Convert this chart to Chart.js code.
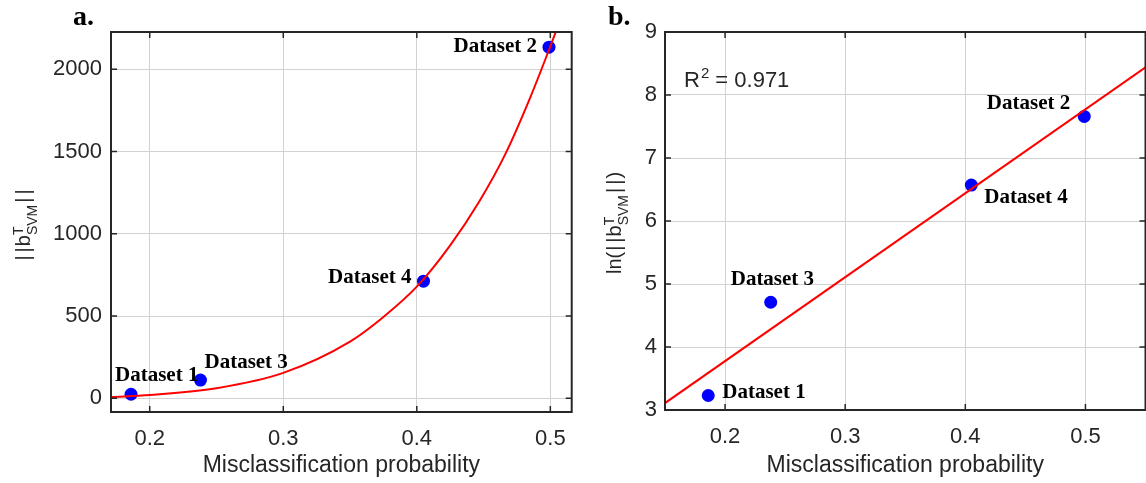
<!DOCTYPE html>
<html>
<head>
<meta charset="utf-8">
<script src="https://cdn.jsdelivr.net/npm/chart.js@4.4.1/dist/chart.umd.min.js"></script>
<style>
  html, body { margin: 0; padding: 0; background: #fff; overflow: hidden; }
  body { width: 1146px; height: 483px; position: relative; }
  canvas { position: absolute; top: 0; }
  #panel-a { left: 0; }
  #panel-b { left: 580px; }
</style>
</head>
<body>
<canvas id="panel-a" width="580" height="483"></canvas>
<canvas id="panel-b" width="572" height="483"></canvas>
<script>
// Values
const DATASET_NAMES = ['Dataset 1', 'Dataset 2', 'Dataset 3', 'Dataset 4'];
const MISCLASS_PROB = [0.186, 0.499, 0.238, 0.405];
const NORM_B = [25, 2135, 111, 712];
const LN_NORM_B = [3.23, 7.66, 4.71, 6.57];

// red fitted curve of panel a, sampled along the picture
const FIT_A_X = [0.171, 0.2, 0.25, 0.3, 0.35, 0.375, 0.4, 0.425, 0.447, 0.466, 0.485, 0.5, 0.506];
const FIT_A_Y = [8, 21, 62, 155, 345, 495, 679, 930, 1200, 1480, 1830, 2140, 2270];

// straight fit of panel b, at the two axis ends
const FIT_B_X = [0.15, 0.55];
const FIT_B_Y = [3.11, 8.44];
const R_SQUARED = 0.971;

const X_TICKS_A = [0.2, 0.3, 0.4, 0.5];
const Y_TICKS_A = [0, 500, 1000, 1500, 2000];
const X_TICKS_B = [0.2, 0.3, 0.4, 0.5];
const Y_TICKS_B = [3, 4, 5, 6, 7, 8, 9];

const X_TITLE = 'Misclassification probability';

// Styling
const SANS = '"Liberation Sans", Arial, sans-serif';
const SERIF = '"Liberation Serif", "Times New Roman", serif';
const AXIS_COLOR = '#262626';
const GRID_COLOR = '#d2d2d2';
const TICK_LEN = 6;

function toPoints(xs, ys) {
  return xs.map((x, i) => ({ x, y: ys[i] }));
}

// Box around the axes with inward tick marks (MATLAB look)
const framePlugin = {
  id: 'frame',
  afterDatasetsDraw(chart) {
    const { ctx, chartArea: a, scales: { x, y } } = chart;
    ctx.save();
    ctx.strokeStyle = AXIS_COLOR;
    ctx.lineWidth = 1.5;
    ctx.beginPath();
    x.ticks.forEach(t => {
      const px = x.getPixelForValue(t.value);
      ctx.moveTo(px, a.bottom); ctx.lineTo(px, a.bottom - TICK_LEN);
      ctx.moveTo(px, a.top); ctx.lineTo(px, a.top + TICK_LEN);
    });
    y.ticks.forEach(t => {
      const py = y.getPixelForValue(t.value);
      ctx.moveTo(a.left, py); ctx.lineTo(a.left + TICK_LEN, py);
      ctx.moveTo(a.right, py); ctx.lineTo(a.right - TICK_LEN, py);
    });
    ctx.stroke();
    ctx.lineWidth = 2;
    ctx.strokeRect(a.left, a.top, a.right - a.left, a.bottom - a.top);
    ctx.restore();
  }
};

// "Dataset N" names next to the points
const pointNamesPlugin = {
  id: 'pointNames',
  afterDatasetsDraw(chart, args, opts) {
    const { ctx, scales: { x, y } } = chart;
    ctx.save();
    ctx.font = `bold 21px ${SERIF}`;
    ctx.fillStyle = '#000';
    ctx.textBaseline = 'alphabetic';
    opts.names.forEach((name, i) => {
      const off = opts.offsets[i];
      ctx.textAlign = off.align;
      ctx.fillText(name, x.getPixelForValue(opts.xs[i]) + off.dx, y.getPixelForValue(opts.ys[i]) + off.dy);
    });
    ctx.restore();
  }
};

// Rotated y label with super/subscripts
function drawRotatedLabel(ctx, parts, baseX, centerY) {
  const main = `20px ${SANS}`;
  const small = `14px ${SANS}`;
  const partWidth = p => {
    if (p.sup !== undefined) {
      ctx.font = small;
      return Math.max(ctx.measureText(p.sup).width, ctx.measureText(p.sub).width) + 1;
    }
    ctx.font = main;
    let w = 0;
    for (const ch of p.t) w += ctx.measureText(ch).width;
    return w + (p.ls || 0) * (p.t.length - 1) + (p.ls ? 2 : 0);
  };
  const total = parts.reduce((s, p) => s + partWidth(p), 0);
  ctx.save();
  ctx.translate(baseX, centerY);
  ctx.rotate(-Math.PI / 2);
  ctx.fillStyle = AXIS_COLOR;
  ctx.textAlign = 'left';
  ctx.textBaseline = 'alphabetic';
  let cx = -total / 2;
  parts.forEach(p => {
    const w = partWidth(p);
    if (p.sup !== undefined) {
      ctx.font = small;
      ctx.fillText(p.sup, cx, -7);
      ctx.fillText(p.sub, cx, 7);
    } else {
      ctx.font = main;
      let px = cx + (p.ls ? 1 : 0);
      for (const ch of p.t) {
        ctx.fillText(ch, px, 0);
        px += ctx.measureText(ch).width + (p.ls || 0);
      }
    }
    cx += w;
  });
  ctx.restore();
}

// y label, panel letter and the R^2 note
const annotationPlugin = {
  id: 'annotations',
  afterDraw(chart, args, opts) {
    const { ctx } = chart;
    drawRotatedLabel(ctx, opts.yLabel, opts.yLabelX, opts.yLabelY);
    ctx.save();
    ctx.font = `bold 28px ${SERIF}`;
    ctx.fillStyle = '#000';
    ctx.textAlign = 'left';
    ctx.textBaseline = 'alphabetic';
    ctx.fillText(opts.letter, opts.letterX, 25);
    if (opts.rSquared !== undefined) {
      ctx.fillStyle = AXIS_COLOR;
      let px = opts.rX;
      ctx.font = `22px ${SANS}`;
      ctx.fillText('R', px, opts.rY);
      px += ctx.measureText('R').width + 1;
      ctx.font = `15px ${SANS}`;
      ctx.fillText('2', px, opts.rY - 9);
      px += ctx.measureText('2').width;
      ctx.font = `22px ${SANS}`;
      ctx.fillText(' = ' + opts.rSquared.toFixed(3), px, opts.rY);
    }
    ctx.restore();
  }
};

function makeScales(xMin, xMax, xTicks, yMin, yMax, yTicks, yWidth, xHeight, yPad) {
  return {
    x: {
      type: 'linear',
      min: xMin,
      max: xMax,
      afterBuildTicks: s => { s.ticks = xTicks.map(v => ({ value: v })); },
      afterFit: s => { s.height = xHeight; },
      grid: { color: GRID_COLOR, lineWidth: 1, drawTicks: false },
      border: { display: false },
      ticks: {
        color: AXIS_COLOR,
        font: { family: SANS, size: 22 },
        padding: 14,
        maxRotation: 0,
        callback: v => v.toFixed(1)
      },
      title: {
        display: true,
        text: X_TITLE,
        color: AXIS_COLOR,
        font: { family: SANS, size: 23 },
        padding: { top: 0, bottom: 4 }
      }
    },
    y: {
      type: 'linear',
      min: yMin,
      max: yMax,
      afterBuildTicks: s => { s.ticks = yTicks.map(v => ({ value: v })); },
      afterFit: s => { s.width = yWidth; },
      grid: { color: GRID_COLOR, lineWidth: 1, drawTicks: false },
      border: { display: false },
      ticks: {
        color: AXIS_COLOR,
        font: { family: SANS, size: 22 },
        padding: yPad,
        callback: v => String(v)
      }
    }
  };
}

function makeDatasets(xs, ys, fitX, fitY, monotone) {
  return [
    {
      type: 'line',
      data: toPoints(fitX, fitY),
      borderColor: '#ff0000',
      borderWidth: 2,
      pointRadius: 0,
      fill: false,
      tension: 0,
      cubicInterpolationMode: monotone ? 'monotone' : 'default',
      clip: 0,
      order: 0
    },
    {
      type: 'scatter',
      data: toPoints(xs, ys),
      backgroundColor: '#0000ff',
      borderWidth: 0,
      pointRadius: 6.5,
      order: 1
    }
  ];
}

function renderPanelA() {
  const ctx = document.getElementById('panel-a').getContext('2d');
  new Chart(ctx, {
    type: 'scatter',
    data: { datasets: makeDatasets(MISCLASS_PROB, NORM_B, FIT_A_X, FIT_A_Y, true) },
    options: {
      responsive: false,
      animation: false,
      devicePixelRatio: 1,
      events: [],
      layout: { padding: { top: 32, right: 8, left: 0, bottom: 0 } },
      scales: makeScales(0.171, 0.516, X_TICKS_A, -83, 2227, Y_TICKS_A, 111, 71, 9),
      plugins: {
        legend: { display: false },
        tooltip: { enabled: false },
        pointNames: {
          names: DATASET_NAMES, xs: MISCLASS_PROB, ys: NORM_B,
          offsets: [
            { align: 'left', dx: -16, dy: -13 },
            { align: 'right', dx: -12, dy: 5 },
            { align: 'left', dx: 4, dy: -12 },
            { align: 'right', dx: -12, dy: 2 }
          ]
        },
        annotations: {
          yLabel: [{ t: '||', ls: 3 }, { t: 'b' }, { sup: 'T', sub: 'SVM' }, { t: '||', ls: 3 }],
          yLabelX: 30, yLabelY: 225,
          letter: 'a.', letterX: 73
        }
      }
    },
    plugins: [framePlugin, pointNamesPlugin, annotationPlugin]
  });
}

function renderPanelB() {
  const ctx = document.getElementById('panel-b').getContext('2d');
  new Chart(ctx, {
    type: 'scatter',
    data: { datasets: makeDatasets(MISCLASS_PROB, LN_NORM_B, FIT_B_X, FIT_B_Y, false) },
    options: {
      responsive: false,
      animation: false,
      devicePixelRatio: 1,
      events: [],
      layout: { padding: { top: 32, right: 3, left: 0, bottom: 0 } },
      scales: makeScales(0.15, 0.55, X_TICKS_B, 3, 9, Y_TICKS_B, 85, 73, 8),
      plugins: {
        legend: { display: false },
        tooltip: { enabled: false },
        pointNames: {
          names: DATASET_NAMES, xs: MISCLASS_PROB, ys: LN_NORM_B,
          offsets: [
            { align: 'left', dx: 14, dy: 2 },
            { align: 'right', dx: -14, dy: -7 },
            { align: 'left', dx: -40, dy: -17 },
            { align: 'left', dx: 13, dy: 18 }
          ]
        },
        annotations: {
          yLabel: [{ t: 'ln(' }, { t: '||', ls: 3 }, { t: 'b' }, { sup: 'T', sub: 'SVM' }, { t: '||', ls: 3 }, { t: ')' }],
          yLabelX: 41, yLabelY: 223,
          letter: 'b.', letterX: 28,
          rSquared: R_SQUARED, rX: 104, rY: 87
        }
      }
    },
    plugins: [framePlugin, pointNamesPlugin, annotationPlugin]
  });
}

renderPanelA();
renderPanelB();
</script>
</body>
</html>
